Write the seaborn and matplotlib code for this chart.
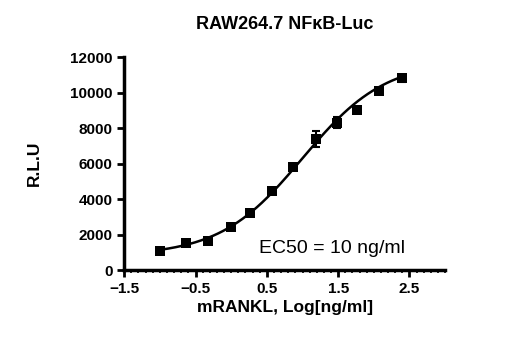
import numpy as np
import pandas as pd
import matplotlib
matplotlib.use("Agg")
import matplotlib.pyplot as plt
import seaborn as sns
from matplotlib.ticker import MultipleLocator

# dose-response data (log10 ng/ml vs R.L.U)
log_conc = [-1.0, -0.63, -0.33, 0.0, 0.27, 0.575, 0.87, 1.19, 1.48, 1.77, 2.07, 2.39]
rlu = [1050, 1500, 1650, 2400, 3200, 4470, 5790, 7360, 8300, 9010, 10090, 10800]
rlu_err = [60, 60, 60, 60, 60, 60, 80, 450, 300, 80, 80, 200]

# 4PL fit parameters
bottom, top, log_ec50, hill = 800, 11800, 1.0, 0.75

df = pd.DataFrame({"x": log_conc, "y": rlu, "err": rlu_err})
xf = np.linspace(min(log_conc), max(log_conc), 200)
fit = pd.DataFrame({"x": xf, "y": bottom + (top - bottom) / (1 + 10 ** (hill * (log_ec50 - xf)))})

sns.set_style("ticks")
plt.rcParams['font.family'] = ['Liberation Sans', 'DejaVu Sans']
for k in ["text.color", "axes.labelcolor", "xtick.color", "ytick.color", "axes.edgecolor"]:
    plt.rcParams[k] = "black"

fig = plt.figure(figsize=(5.07, 3.61), dpi=100)
ax = fig.add_axes([0.245, 0.252, 0.633, 0.59])

sns.lineplot(data=fit, x="x", y="y", color="black", linewidth=1.8, ax=ax)
ax.errorbar(df["x"], df["y"], yerr=df["err"], fmt="none", ecolor="black",
            elinewidth=1.5, capsize=3, capthick=1.5)
sns.scatterplot(data=df, x="x", y="y", marker="s", s=50, color="black",
                edgecolor="black", linewidth=0, ax=ax, zorder=5)

ax.set_xlim(-1.5, 3.0)
ax.set_ylim(0, 12000)
ax.set_xticks([-1.5, -0.5, 0.5, 1.5, 2.5])
ax.xaxis.set_minor_locator(MultipleLocator(0.1))
ax.set_yticks(range(0, 12001, 2000))

for s in ["left", "bottom"]:
    ax.spines[s].set_linewidth(2.5)
sns.despine(ax=ax)
ax.tick_params(axis="both", which="major", width=2, length=5, labelsize=11)
ax.tick_params(axis="x", which="minor", width=1.2, length=2)
for lab in ax.get_xticklabels() + ax.get_yticklabels():
    lab.set_fontweight("bold")

ax.set_xlabel("mRANKL, Log[ng/ml]", fontsize=12.5, fontweight="bold", labelpad=3)
ax.set_ylabel("R.L.U", fontsize=12.5, fontweight="bold", labelpad=20)
ax.set_title("RAW264.7 NF\u03baB-Luc", fontsize=13, fontweight="bold", pad=20)
ax.text(1.41, 1200, "EC50 = 10 ng/ml", fontsize=14, ha="center", va="center")

fig.savefig("out.png", dpi=100)
